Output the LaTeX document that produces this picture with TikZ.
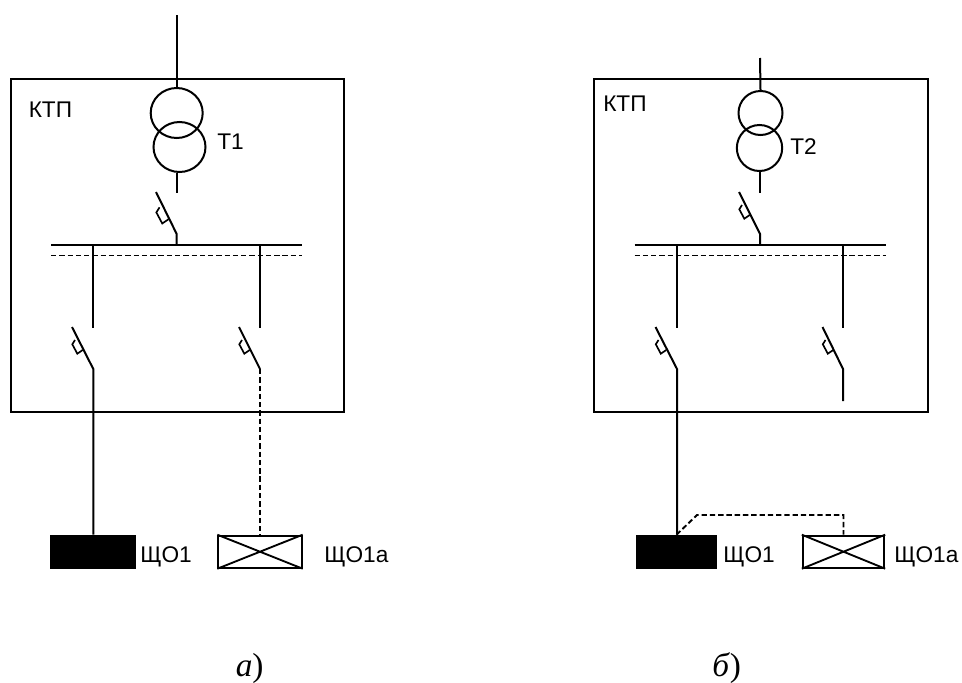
\documentclass[tikz,border=0pt]{standalone}
\usepackage{fontspec}
\setmainfont{Liberation Sans}
\newfontfamily\serifcyr{Liberation Serif}
\usetikzlibrary{shapes.geometric}
\tikzset{
  wire/.style={line width=1.5pt,line cap=butt},
  dash wire/.style={line width=1.4pt,dash pattern=on 4pt off 2.2pt},
  enclosure/.style={draw,line width=1.5pt,fill=none,inner sep=0pt,anchor=north west},
  winding/.style={draw,line width=1.5pt,ellipse,inner sep=0pt,fill=none},
  panel/.style={draw,line width=1.5pt,inner sep=0pt,minimum height=24pt},
  lbl/.style={inner sep=0pt,font=\fontsize{17pt}{20pt}\selectfont,anchor=base west},
  captext/.style={inner sep=0pt,font=\serifcyr\fontsize{25pt}{28pt}\selectfont,anchor=base west},
}
\newcommand{\fuse}[2]{% #1 start of blade, #2 scale
  \draw[line width=1.25pt,shift={(#1)},scale=#2] (3,13) -- (0.3,17.3) -- (5.3,26.7) -- (10.7,23);}
\begin{document}
\begin{tikzpicture}[x=0.75pt,y=-0.75pt]
\useasboundingbox (0,0) rectangle (962,682);
% --- left scheme ---
\node[enclosure,minimum width=249.75pt,minimum height=249.75pt] (boxA) at (10,78) {};
\node[lbl] (ktpA) at (28.5,117.5) {КТП};
\node[winding,minimum width=39pt,minimum height=37.5pt] (t1a) at (176.7,113) {};
\node[winding,minimum width=39pt,minimum height=37.5pt] (t1b) at (179.5,147) {};
\node[lbl] (t1l) at (217,149) {Т1};
\coordinate (inA) at (176.7,15);
\coordinate (t1out) at (176.7,193);
\coordinate (swTopA) at (156,192);
\coordinate (swKneeA) at (176.7,234);
\coordinate (busAl) at (51,244.5);
\coordinate (busAr) at (302,244.5);
\coordinate (busAm) at (176.7,244.5);
\coordinate (dbusAl) at (51,255.5);
\coordinate (dbusAr) at (302,255.5);
\coordinate (dropA1) at (93.3,244.5);
\coordinate (dropA1e) at (93.3,328);
\coordinate (dropA2) at (260,244.5);
\coordinate (dropA2e) at (260,328);
\coordinate (swA1) at (72,327);
\coordinate (kneeA1) at (93.3,369);
\coordinate (swA2) at (239,327);
\coordinate (kneeA2) at (260,369);
\node[panel,fill=black,minimum width=62.5pt] (shA) at (93,551.7) {};
\node[panel,minimum width=62.5pt] (shAa) at (260,551.7) {};
\node[lbl] (shAl) at (140,562.5) {ЩО1};
\node[lbl] (shAal) at (324,562.5) {ЩО1а};
\draw[wire] (inA) -- (t1a.north);
\draw[wire] (t1out |- t1b.south) -- (t1out);
\draw[wire] (swTopA) -- (swKneeA) -- (busAm);
\fuse{swTopA}{1.18}
\draw[wire] (busAl) -- (busAr);
\draw[dash wire] (dbusAl) -- (dbusAr);
\draw[wire] (dropA1) -- (dropA1e);
\draw[wire] (dropA2) -- (dropA2e);
\draw[wire] (swA1) -- (kneeA1) -- (shA.north -| kneeA1);
\fuse{swA1}{1}
\draw[wire] (swA2) -- (kneeA2);
\fuse{swA2}{1}
\draw[dash wire] (kneeA2) -- (shAa.north);
\draw[line width=1.4pt] (shAa.north west) -- (shAa.south east) (shAa.south west) -- (shAa.north east);
% --- right scheme ---
\node[enclosure,minimum width=250.5pt,minimum height=249.75pt] (boxB) at (593,78) {};
\node[lbl] (ktpB) at (603,111) {КТП};
\node[winding,minimum width=33pt,minimum height=33pt] (t2a) at (760.5,113) {};
\node[winding,minimum width=34pt,minimum height=34.5pt] (t2b) at (759.5,148) {};
\node[lbl] (t2l) at (790,154) {Т2};
\coordinate (inB) at (760,58);
\coordinate (t2out) at (760,193);
\coordinate (swTopB) at (739,192);
\coordinate (swKneeB) at (760,234);
\coordinate (busBl) at (634.5,244.5);
\coordinate (busBr) at (885.5,244.5);
\coordinate (busBm) at (760,244.5);
\coordinate (dbusBl) at (634.5,255.5);
\coordinate (dbusBr) at (885.5,255.5);
\coordinate (dropB1) at (677,244.5);
\coordinate (dropB1e) at (677,328);
\coordinate (dropB2) at (843,244.5);
\coordinate (dropB2e) at (843,328);
\coordinate (swB1) at (655.5,327);
\coordinate (kneeB1) at (677,369);
\coordinate (swB2) at (822.5,327);
\coordinate (kneeB2) at (843,369);
\coordinate (endB2) at (843,401);
\coordinate (dashB1) at (697,515);
\coordinate (dashB2) at (843.5,515);
\node[panel,fill=black,minimum width=59pt] (shB) at (676.5,551.7) {};
\node[panel,minimum width=61pt] (shBa) at (843.5,551.7) {};
\node[lbl] (shBl) at (723,562.5) {ЩО1};
\node[lbl] (shBal) at (894,562.5) {ЩО1а};
\draw[wire] (inB) -- (t2a.north);
\draw[wire] (t2out |- t2b.south) -- (t2out);
\draw[wire] (swTopB) -- (swKneeB) -- (busBm);
\fuse{swTopB}{1}
\draw[wire] (busBl) -- (busBr);
\draw[dash wire] (dbusBl) -- (dbusBr);
\draw[wire] (dropB1) -- (dropB1e);
\draw[wire] (dropB2) -- (dropB2e);
\draw[wire] (swB1) -- (kneeB1) -- (shB.north -| kneeB1);
\fuse{swB1}{1}
\draw[wire] (swB2) -- (kneeB2) -- (endB2);
\fuse{swB2}{1}
\draw[dash wire] (shB.north) -- (dashB1) -- (dashB2) -- (shBa.north);
\draw[line width=1.4pt] (shBa.north west) -- (shBa.south east) (shBa.south west) -- (shBa.north east);
% --- captions ---
\node[captext] (capa) at (235.5,676) {\textit{а})};
\node[captext] (capb) at (712,676) {\textit{б})};
\end{tikzpicture}
\end{document}
